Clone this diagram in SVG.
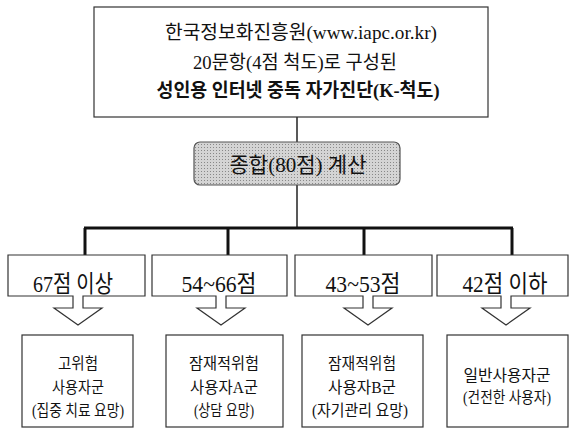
<svg xmlns="http://www.w3.org/2000/svg" width="570" height="429" viewBox="0 0 570 429">
<defs>
<style>
.t{font-family:"Liberation Serif","Noto Sans CJK KR",serif;fill:#111;text-anchor:middle}
.box{fill:#fff;stroke:#333;stroke-width:1.2}
.thin{stroke:#222;stroke-width:1.5;fill:none}
.thick{stroke:#111;stroke-width:3;fill:none}
</style>
<pattern id="ht" width="3" height="3" patternUnits="userSpaceOnUse">
<rect width="3" height="3" fill="#d4d4d4"/>
<rect width="1" height="1" fill="#888"/>
</pattern>
</defs>
<rect width="570" height="429" fill="#fff"/>

<g id="connectors">
<line class="thin" x1="297" y1="117" x2="297" y2="142"/>
<line class="thin" x1="297" y1="185" x2="297" y2="228"/>
<line class="thick" x1="84" y1="228" x2="513" y2="228"/>
<line class="thick" x1="85" y1="228" x2="85" y2="255"/>
<line class="thick" x1="228" y1="228" x2="228" y2="255"/>
<line class="thick" x1="364" y1="228" x2="364" y2="255"/>
<line class="thick" x1="512" y1="228" x2="512" y2="255"/>
</g>

<g id="top">
<rect class="box" x="94" y="7" width="394" height="110"/>
<text class="t" x="301" y="39" font-size="19" textLength="272" lengthAdjust="spacingAndGlyphs">한국정보화진흥원(www.iapc.or.kr)</text>
<text class="t" x="295" y="69" font-size="19" textLength="204" lengthAdjust="spacingAndGlyphs">20문항(4점 척도)로 구성된</text>
<text class="t" x="298" y="97" font-size="19" font-weight="bold" textLength="283" lengthAdjust="spacingAndGlyphs">성인용 인터넷 중독 자가진단(K-척도)</text>
</g>

<g id="total">
<rect x="194" y="142" width="206" height="43" rx="6" fill="url(#ht)" stroke="#555" stroke-width="1.2"/>
<text class="t" x="298" y="172" font-size="21" textLength="137" lengthAdjust="spacingAndGlyphs">종합(80점) 계산</text>
</g>

<g id="range1">
<path class="box" d="M8,255 H145 V296 H83 V308 H102 L78,325 L54,308 H73 V296 H8 Z"/>
<text class="t" x="73" y="292" font-size="24" textLength="80" lengthAdjust="spacingAndGlyphs">67점 이상</text>
</g>
<g id="range2">
<path class="box" d="M152,255 H287 V296 H226 V308 H245 L221,325 L197,308 H216 V296 H152 Z"/>
<text class="t" x="219" y="292" font-size="24" textLength="75" lengthAdjust="spacingAndGlyphs">54~66점</text>
</g>
<g id="range3">
<path class="box" d="M295,255 H432 V296 H373 V308 H392 L368,325 L344,308 H363 V296 H295 Z"/>
<text class="t" x="363" y="292" font-size="24" textLength="75" lengthAdjust="spacingAndGlyphs">43~53점</text>
</g>
<g id="range4">
<path class="box" d="M437,255 H568 V296 H511 V308 H530 L506,325 L482,308 H501 V296 H437 Z"/>
<text class="t" x="505" y="292" font-size="24" textLength="85" lengthAdjust="spacingAndGlyphs">42점 이하</text>
</g>

<g id="result1">
<rect class="box" x="22" y="335" width="111" height="92"/>
<text class="t" x="78" y="369" font-size="16" textLength="40" lengthAdjust="spacingAndGlyphs">고위험</text>
<text class="t" x="78" y="393" font-size="16" textLength="52" lengthAdjust="spacingAndGlyphs">사용자군</text>
<text class="t" x="78" y="416" font-size="16" textLength="92" lengthAdjust="spacingAndGlyphs">(집중 치료 요망)</text>
</g>
<g id="result2">
<rect class="box" x="166" y="335" width="117" height="92"/>
<text class="t" x="224" y="369" font-size="16" textLength="70" lengthAdjust="spacingAndGlyphs">잠재적위험</text>
<text class="t" x="224" y="393" font-size="16" textLength="68" lengthAdjust="spacingAndGlyphs">사용자A군</text>
<text class="t" x="224" y="416" font-size="16" textLength="60" lengthAdjust="spacingAndGlyphs">(상담 요망)</text>
</g>
<g id="result3">
<rect class="box" x="302" y="335" width="121" height="92"/>
<text class="t" x="362" y="369" font-size="16" textLength="68" lengthAdjust="spacingAndGlyphs">잠재적위험</text>
<text class="t" x="362" y="393" font-size="16" textLength="68" lengthAdjust="spacingAndGlyphs">사용자B군</text>
<text class="t" x="360" y="416" font-size="16" textLength="96" lengthAdjust="spacingAndGlyphs">(자기관리 요망)</text>
</g>
<g id="result4">
<rect class="box" x="447" y="335" width="121" height="92"/>
<text class="t" x="507" y="381" font-size="16" textLength="87" lengthAdjust="spacingAndGlyphs">일반사용자군</text>
<text class="t" x="507" y="403" font-size="16" textLength="88" lengthAdjust="spacingAndGlyphs">(건전한 사용자)</text>
</g>
</svg>
